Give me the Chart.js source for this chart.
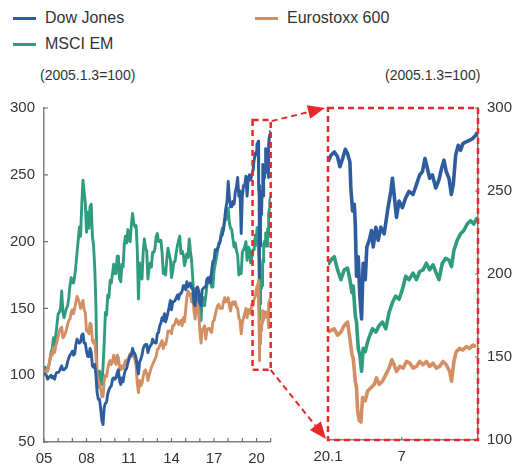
<!DOCTYPE html>
<html>
<head>
<meta charset="utf-8">
<script src="https://cdn.jsdelivr.net/npm/chart.js@4.4.1/dist/chart.umd.min.js"></script>
<style>
  body { margin: 0; background: #fff; }
  #wrap { position: relative; width: 515px; height: 468px; overflow: hidden;
          font-family: 'Liberation Sans', Arial, sans-serif; color: #333; }
  .sw { position: absolute; width: 23px; height: 3px; }
  .lg { position: absolute; font-size: 16px; line-height: 20px; white-space: nowrap; }
  .unit { position: absolute; font-size: 14px; line-height: 16px; white-space: nowrap; }
  canvas { position: absolute; }
</style>
</head>
<body>
<div id="wrap">
  <div class="sw" style="left:13px;top:16.5px;background:#2e5d9f"></div>
  <div class="lg" style="left:45px;top:8px">Dow Jones</div>
  <div class="sw" style="left:13px;top:43px;background:#2f9b7f"></div>
  <div class="lg" style="left:45px;top:34px">MSCI EM</div>
  <div class="sw" style="left:255px;top:16.5px;background:#d38f63"></div>
  <div class="lg" style="left:287px;top:8px">Eurostoxx 600</div>

  <div class="unit" style="left:40px;top:67px">(2005.1.3=100)</div>
  <div class="unit" style="left:385px;top:67px">(2005.1.3=100)</div>

  <canvas id="leftChart" width="280" height="378" style="left:0;top:90px"></canvas>
  <canvas id="rightChart" width="215" height="378" style="left:300px;top:90px"></canvas>
  <canvas id="overlay" width="515" height="468" style="left:0;top:0"></canvas>
</div>

<script>
// monthly values 2005.1 - 2019.12 (2005.1.3 = 100)
const years = [2005, 2006, 2007, 2008, 2009, 2010, 2011, 2012, 2013, 2014, 2015, 2016, 2017, 2018, 2019];

const dow = [
  100, 101, 100, 97, 98, 99, 100, 98, 99, 97, 101, 102,
  102, 103, 105, 107, 104, 104, 105, 106, 110, 113, 115, 116,
  118, 115, 116, 123, 127, 125, 124, 125, 130, 131, 124, 124,
  118, 114, 114, 120, 117, 107, 106, 108, 100, 87, 82, 82,
  75, 66, 63, 76, 79, 80, 86, 89, 91, 92, 97, 98,
  97, 98, 102, 104, 96, 93, 98, 95, 101, 104, 105, 109,
  112, 115, 115, 120, 117, 116, 113, 106, 101, 110, 112, 115,
  120, 122, 123, 123, 117, 120, 122, 123, 127, 125, 124, 124,
  131, 132, 137, 139, 143, 141, 146, 140, 143, 147, 151, 156,
  149, 155, 155, 156, 158, 160, 157, 161, 161, 163, 167, 167,
  164, 170, 166, 168, 169, 165, 165, 154, 152, 165, 166, 163,
  154, 152, 164, 165, 166, 166, 172, 173, 170, 169, 178, 185,
  186, 194, 193, 195, 197, 200, 204, 205, 209, 217, 225, 230,
  245, 233, 226, 226, 230, 228, 237, 241, 248, 234, 238, 206,
  234, 242, 242, 249, 234, 247, 250, 246, 250, 253, 261, 266
];

const msciEm = [
  100, 106, 104, 103, 107, 111, 117, 120, 128, 122, 130, 138,
  146, 147, 150, 163, 147, 143, 147, 150, 152, 158, 167, 173,
  170, 169, 174, 182, 192, 201, 211, 204, 228, 246, 237, 229,
  207, 222, 210, 226, 228, 204, 197, 180, 152, 90, 96, 103,
  100, 93, 106, 124, 147, 145, 160, 158, 171, 169, 176, 183,
  176, 176, 189, 189, 172, 170, 183, 181, 198, 204, 199, 209,
  201, 200, 213, 221, 214, 211, 212, 194, 157, 184, 175, 172,
  192, 202, 195, 193, 172, 180, 184, 181, 192, 192, 195, 204,
  206, 200, 200, 201, 192, 176, 180, 175, 187, 195, 190, 187,
  173, 178, 185, 185, 192, 197, 201, 204, 191, 193, 190, 182,
  186, 191, 188, 202, 193, 186, 172, 157, 151, 162, 158, 152,
  142, 141, 158, 158, 152, 159, 167, 170, 172, 174, 166, 166,
  178, 183, 188, 193, 199, 199, 206, 210, 209, 216, 216, 220,
  225, 214, 210, 209, 202, 196, 199, 193, 190, 175, 180, 176,
  192, 194, 196, 200, 186, 196, 194, 184, 188, 194, 194, 205
];

const stoxx600 = [
  100, 103, 104, 103, 107, 112, 116, 115, 121, 117, 122, 125,
  129, 133, 135, 136, 128, 129, 131, 134, 138, 141, 142, 147,
  149, 146, 150, 155, 159, 157, 154, 150, 152, 156, 149, 147,
  133, 134, 131, 139, 138, 126, 124, 126, 114, 100, 96, 93,
  90, 84, 84, 96, 100, 99, 105, 109, 111, 108, 110, 115,
  110, 108, 115, 113, 106, 104, 107, 105, 108, 111, 108, 112,
  114, 116, 114, 117, 114, 112, 107, 94, 87, 96, 92, 94,
  99, 103, 104, 101, 96, 100, 103, 106, 108, 110, 112, 114,
  119, 120, 122, 124, 126, 120, 124, 123, 127, 133, 133, 133,
  131, 137, 137, 139, 142, 141, 138, 139, 141, 137, 143, 140,
  149, 158, 163, 160, 161, 155, 161, 148, 142, 150, 154, 147,
  133, 124, 134, 135, 137, 127, 134, 135, 135, 133, 132, 140,
  141, 145, 149, 152, 153, 150, 150, 150, 155, 158, 155, 155,
  158, 152, 148, 154, 155, 153, 155, 151, 150, 143, 141, 131,
  139, 143, 146, 150, 143, 149, 149, 146, 153, 152, 157, 159
];

// 2020 detail (months since 2020.1.1)
const dowZoomM = [0, 0.24, 0.51, 0.78, 0.97, 1.19, 1.41, 1.59, 1.78, 1.86, 2.0, 2.14, 2.22, 2.32, 2.46, 2.59, 2.73,
  2.86, 3.03, 3.16, 3.35, 3.54, 3.68, 3.89, 4.08, 4.3, 4.57, 4.84, 5.11, 5.24, 5.38, 5.57, 5.78, 6.05, 6.32,
  6.59, 6.92, 7.19, 7.46, 7.68, 7.89, 8.08, 8.27, 8.49, 8.76, 9.03, 9.24, 9.43, 9.62, 9.84, 10.03, 10.19,
  10.38, 10.59, 10.78, 10.97, 11.19, 11.46, 11.73, 12.0, 12.14];
const dowZoom = [267.6, 271.5, 273.5, 270.6, 264.6, 269.6, 275.1, 272.5, 267.6, 251.8, 238, 242, 230, 198.6, 210.4, 186.7, 172.9,
  206.5, 196.6, 216.3, 220.3, 226.2, 216.3, 228.2, 220.3, 228.2, 224.2, 238, 249.8, 257.7, 247.9, 234.1, 243.9, 240, 245.9,
  249.8, 247.9, 253.8, 259.7, 261.7, 269.6, 263.7, 257.7, 259.7, 251.8, 256.8, 263.7, 268.6, 261.7, 257.7, 247.9, 253.8,
  271.5, 277.5, 274.5, 278.5, 279.4, 280.4, 281.4, 283.4, 285.4];

const emZoomM = [0, 0.24, 0.51, 0.78, 1.05, 1.32, 1.59, 1.78, 1.95, 2.05, 2.22, 2.32, 2.46, 2.59, 2.73, 2.86, 3.03,
  3.22, 3.41, 3.62, 3.89, 4.16, 4.43, 4.7, 4.97, 5.24, 5.51, 5.78, 6.05, 6.32, 6.59, 6.92, 7.19, 7.46, 7.73,
  8.0, 8.27, 8.54, 8.81, 9.03, 9.3, 9.57, 9.84, 10.05, 10.24, 10.51, 10.78, 11.05, 11.32, 11.59, 11.86, 12.14];
const emZoom = [205.5, 208.4, 210.4, 202.5, 196.6, 202.5, 203.5, 196.6, 188.7, 192.7, 174.9, 171, 155.2, 151.2, 141.4, 155.2, 153.2,
  159.1, 163.1, 167, 165, 169, 171, 167, 176.9, 182.8, 186.7, 184.8, 190.7, 198.6, 196.6, 200.5, 196.6, 201.5, 202.5,
  206.5, 202.5, 205.5, 200.5, 196.6, 206.5, 209.4, 208.4, 204.5, 214.3, 220.3, 224.2, 226.2, 230.1, 232.1, 230.1, 234.1];

const stoxxZoomM = [0, 0.24, 0.51, 0.78, 1.05, 1.32, 1.59, 1.78, 1.95, 2.05, 2.22, 2.32, 2.41, 2.54, 2.68, 2.81, 3.03,
  3.22, 3.49, 3.76, 3.95, 4.16, 4.43, 4.7, 4.97, 5.19, 5.38, 5.57, 5.84, 6.11, 6.38, 6.65, 6.92, 7.19, 7.46,
  7.73, 8.0, 8.27, 8.54, 8.81, 9.08, 9.35, 9.62, 9.89, 10.05, 10.24, 10.43, 10.7, 10.97, 11.24, 11.51, 11.78, 12.05];
const stoxxZoom = [165, 166, 167, 163.1, 165, 169, 171, 161.1, 151.2, 149.3, 135.4, 131.5, 117.7, 111.8, 110.8, 125.6, 123.6,
  129.5, 131.5, 133.5, 137.4, 133.5, 135.4, 139.4, 143.3, 148.3, 145.3, 141.4, 144.3, 143.3, 147.3, 146.3, 143.3, 144.3, 147.3,
  145.3, 147.3, 144.3, 146.3, 143.3, 144.3, 147.3, 145.3, 141.4, 135.4, 147.3, 153.2, 155.2, 154.2, 156.2, 155.2, 157.2, 156.2];

const leftTickLabels = { 2005: '05', 2008: '08', 2011: '11', 2014: '14', 2017: '17', 2020: '20' };
const rightTickLabels = { 0: '20.1', 6: '7' };

const BLUE = '#2e5d9f', TEAL = '#2f9b7f', ORANGE = '#d38f63';
const RED = '#e8282b';
const tickFont = { family: "'Liberation Sans Narrow', 'Liberation Sans', Arial, sans-serif", size: 15 };

const leftDates = years.flatMap(y => [0, 1, 2, 3, 4, 5, 6, 7, 8, 9, 10, 11].map(k => y + k / 12));

function leftSeries(monthly, zm, zv) {
  return leftDates.map((x, i) => ({ x, y: monthly[i] }))
    .concat(zm.map((m, i) => ({ x: 2020 + m / 12, y: zv[i] })));
}
function zoomSeries(zm, zv) {
  return zm.map((m, i) => ({ x: m, y: zv[i] }));
}

// small inward tick marks on both axes
const innerTicks = {
  id: 'innerTicks',
  afterDraw(chart, args, opts) {
    const { ctx, chartArea: a, scales: { x, y } } = chart;
    ctx.save();
    ctx.strokeStyle = '#6f6f6f';
    ctx.lineWidth = 1.2;
    ctx.beginPath();
    x.ticks.forEach(t => {
      const px = x.getPixelForValue(t.value);
      ctx.moveTo(px, a.bottom);
      ctx.lineTo(px, a.bottom - opts.len);
    });
    y.ticks.forEach(t => {
      const py = y.getPixelForValue(t.value);
      if (opts.side === 'right') { ctx.moveTo(a.right, py); ctx.lineTo(a.right - opts.len, py); }
      else { ctx.moveTo(a.left, py); ctx.lineTo(a.left + opts.len, py); }
    });
    ctx.stroke();
    ctx.restore();
  }
};

function lineSet(label, data, color, order, width) {
  return { label, data, borderColor: color, backgroundColor: color, borderWidth: width,
           pointRadius: 0, tension: 0, order, borderJoinStyle: 'round' };
}

const axisBorder = { display: true, color: '#808080', width: 1.5 };
const noGrid = { display: true, drawOnChartArea: false, drawTicks: false };

const leftChart = new Chart(document.getElementById('leftChart'), {
  type: 'line',
  data: {
    datasets: [
      lineSet('Dow Jones', leftSeries(dow, dowZoomM, dowZoom), BLUE, 0, 2.9),
      lineSet('Eurostoxx 600', leftSeries(stoxx600, stoxxZoomM, stoxxZoom), ORANGE, 1, 2.9),
      lineSet('MSCI EM', leftSeries(msciEm, emZoomM, emZoom), TEAL, 2, 2.9)
    ]
  },
  options: {
    responsive: false,
    animation: false,
    layout: { padding: { top: 12, right: 9.3, left: 0, bottom: 0 } },
    plugins: { legend: { display: false }, tooltip: { enabled: false }, innerTicks: { len: 4, side: 'left' } },
    scales: {
      x: {
        type: 'linear', min: 2005, max: 2021,
        grid: noGrid, border: axisBorder,
        afterFit: s => { s.height = 26; },
        ticks: { stepSize: 1, autoSkip: false, maxRotation: 0, padding: 8, color: '#333', font: tickFont,
                 callback: v => leftTickLabels[v] || '' }
      },
      y: {
        min: 50, max: 300,
        grid: noGrid, border: axisBorder,
        afterFit: s => { s.width = 44; },
        ticks: { stepSize: 50, padding: 9, color: '#333', font: tickFont }
      }
    }
  },
  plugins: [innerTicks]
});

const rightChart = new Chart(document.getElementById('rightChart'), {
  type: 'line',
  data: {
    datasets: [
      lineSet('Dow Jones', zoomSeries(dowZoomM, dowZoom), BLUE, 0, 3.6),
      lineSet('Eurostoxx 600', zoomSeries(stoxxZoomM, stoxxZoom), ORANGE, 1, 3.6),
      lineSet('MSCI EM', zoomSeries(emZoomM, emZoom), TEAL, 2, 3.6)
    ]
  },
  options: {
    responsive: false,
    animation: false,
    layout: { padding: { top: 12, right: 0, left: 28, bottom: 0 } },
    plugins: { legend: { display: false }, tooltip: { enabled: false }, innerTicks: { len: 3, side: 'right' } },
    scales: {
      x: {
        type: 'linear', min: 0, max: 12.2,
        grid: noGrid, border: axisBorder,
        afterFit: s => { s.height = 28; },
        afterBuildTicks: s => { s.ticks = Object.keys(rightTickLabels).map(k => ({ value: Number(k) })); },
        ticks: { autoSkip: false, maxRotation: 0, padding: 8, color: '#333', font: tickFont,
                 callback: v => rightTickLabels[v] || '' }
      },
      y: {
        position: 'right',
        min: 100, max: 300,
        grid: noGrid, border: axisBorder,
        afterFit: s => { s.width = 37; },
        ticks: { stepSize: 50, padding: 9, color: '#333', font: tickFont }
      }
    }
  },
  plugins: [innerTicks]
});

// red dashed boxes and arrows linking the 2020 section to the detail panel
const zoomBox = { from: 2019.72, to: 2021, top: 291, bottom: 104 };
const g = document.getElementById('overlay').getContext('2d');
const lx = leftChart.scales.x, ly = leftChart.scales.y;
const L = { l: lx.getPixelForValue(zoomBox.from), r: lx.getPixelForValue(zoomBox.to),
            t: 90 + ly.getPixelForValue(zoomBox.top), b: 90 + ly.getPixelForValue(zoomBox.bottom) };
const ca = rightChart.chartArea;
const R = { l: 300 + ca.left, r: 300 + ca.right, t: 90 + ca.top, b: 90 + ca.bottom };

g.strokeStyle = RED;
g.fillStyle = RED;
g.lineWidth = 2.5;
g.setLineDash([6, 4]);
g.strokeRect(L.l, L.t, L.r - L.l, L.b - L.t);
g.strokeRect(R.l, R.t, R.r - R.l, R.b - R.t);

function arrow(x1, y1, x2, y2) {
  const a = Math.atan2(y2 - y1, x2 - x1), hl = 17, hw = 7;
  const bx = x2 - hl * Math.cos(a), by = y2 - hl * Math.sin(a);
  g.lineWidth = 2;
  g.setLineDash([6, 4]);
  g.beginPath(); g.moveTo(x1, y1); g.lineTo(bx, by); g.stroke();
  g.setLineDash([]);
  g.beginPath();
  g.moveTo(x2, y2);
  g.lineTo(bx - hw * Math.sin(a), by + hw * Math.cos(a));
  g.lineTo(bx + hw * Math.sin(a), by - hw * Math.cos(a));
  g.closePath(); g.fill();
}
arrow(L.r + 1, L.t + 1, R.l - 3, R.t);
arrow(L.r, L.b, R.l - 2, R.b - 1);
</script>
</body>
</html>
